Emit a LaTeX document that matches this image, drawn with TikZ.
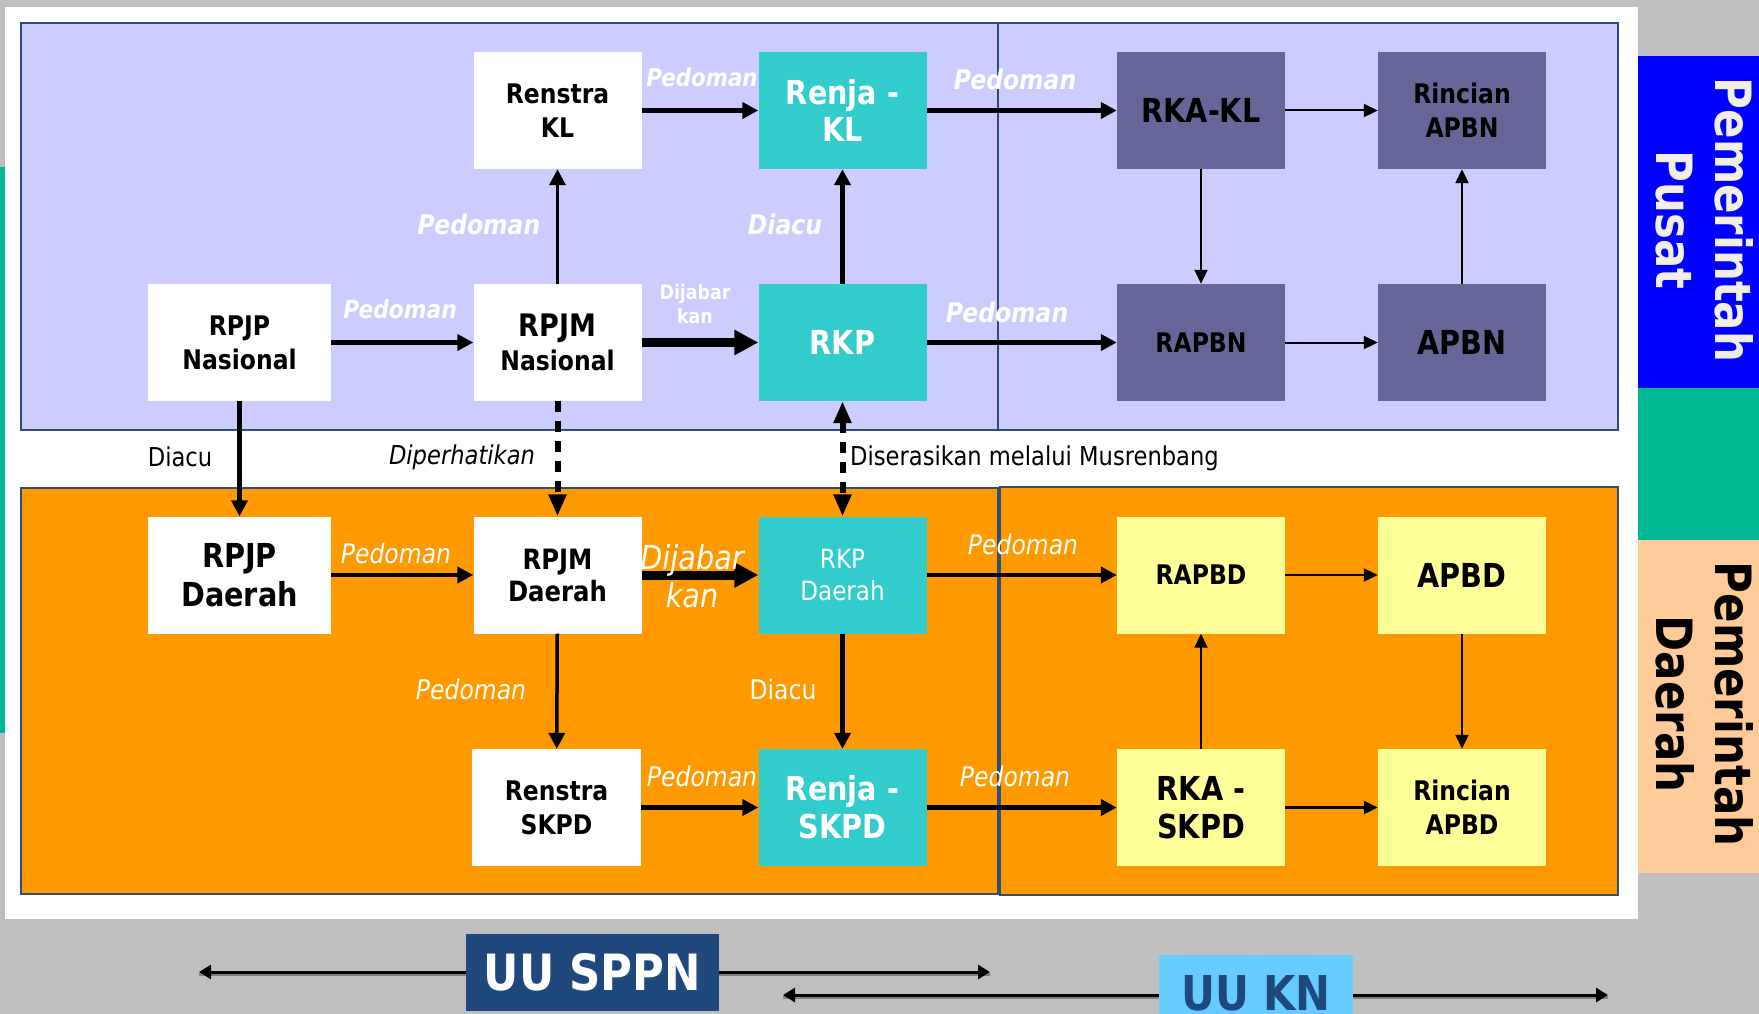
\documentclass[tikz,border=0pt]{standalone}
\usepackage{fontspec}
\setmainfont{DejaVu Sans}[FakeStretch=0.87]
\usetikzlibrary{arrows.meta}
\definecolor{lav}{HTML}{CCCCFF}
\definecolor{org}{HTML}{FF9900}
\definecolor{tealb}{HTML}{33CCCC}
\definecolor{dpur}{HTML}{666699}
\definecolor{ylw}{HTML}{FFFF99}
\definecolor{peach}{HTML}{FFCC99}
\definecolor{gry}{HTML}{BFBFBF}
\definecolor{strip}{HTML}{00B894}
\definecolor{navy}{HTML}{1F497D}
\definecolor{skyb}{HTML}{66CCFF}
\definecolor{frm}{HTML}{2E4D7B}
\definecolor{offw}{HTML}{F0EEE6}
\definecolor{pureblue}{HTML}{0000FF}
\tikzset{
  box/.style={minimum width=168pt, minimum height=117pt, inner sep=0pt, align=center, text=black, font=\fontsize{27}{34}\selectfont\bfseries},
  wbox/.style={box, fill=white},
  tbox/.style={box, fill=tealb, text=white},
  pbox/.style={box, fill=dpur},
  ybox/.style={box, fill=ylw},
  big/.style={font=\fontsize{33}{37}\selectfont\bfseries},
  a2/.style={line width=2pt, -{Triangle[length=14pt,width=13pt]}},
  a4/.style={line width=4.5pt, -{Triangle[length=16pt,width=16pt]}},
  a9/.style={line width=9pt, -{Triangle[length=24pt,width=24pt]}},
  dotln/.style={line width=6pt, dash pattern=on 11pt off 9pt},
  dtip/.style={-{Triangle[length=22pt,width=17pt]}},
  dtips/.style={{Triangle[length=22pt,width=17pt]}-{Triangle[length=22pt,width=17pt]}},
  lblB/.style={inner sep=0pt, text=white, font=\fontsize{27}{30}\selectfont\bfseries\itshape},
  lblI/.style={inner sep=0pt, text=white, font=\fontsize{27}{30}\selectfont\itshape},
  lblK/.style={inner sep=0pt, text=black, font=\fontsize{26}{30}\selectfont},
  panel/.style={draw=frm, line width=2pt},
  larr/.style={line width=3pt, {Triangle[length=12pt,width=14pt]}-{Triangle[length=12pt,width=14pt]}},
}
\begin{document}
\begin{tikzpicture}[x=1pt,y=-1pt]
\useasboundingbox (0,0) rectangle (1759,1014);
\clip (0,0) rectangle (1759,1014);
% backgrounds
\fill[gry] (0,0) rectangle (1759,1014);
\fill[strip] (0,167) rectangle (6,733);
\fill[white] (5,7) rectangle (1638,919);
\fill[pureblue] (1638,56) rectangle (1759,388);
\fill[strip] (1638,388) rectangle (1759,540);
\fill[peach] (1638,540) rectangle (1759,873);
% panels
\fill[lav] (21,23) rectangle (1618,430);
\draw[panel] (21,23) rectangle (998,430);
\draw[panel] (998,23) rectangle (1618,430);
\fill[org] (21,488) rectangle (1618,894);
\draw[panel] (21,488) rectangle (998,894);
\draw[panel] (1000,487) rectangle (1618,895);

% top nodes
\node[wbox] (renstrakl) at (557.5,110.5) {Renstra\\KL};
\node[tbox, big] (renjakl) at (842.5,110.5) {Renja -\\KL};
\node[pbox, big] (rkakl) at (1201,110.5) {RKA-KL};
\node[pbox] (rincianapbn) at (1462,110.5) {Rincian\\APBN};
\node[wbox, minimum width=183pt] (rpjpn) at (239.5,342.5) {RPJP\\Nasional};
\node[wbox] (rpjmn) at (557.5,342.5) {{\fontsize{31}{34}\selectfont RPJM}\\Nasional};
\node[tbox, big] (rkp) at (842.5,342.5) {RKP};
\node[pbox] (rapbn) at (1201,342.5) {RAPBN};
\node[pbox, big] (apbn) at (1462,342.5) {APBN};
% bottom nodes
\node[wbox, minimum width=183pt, font=\fontsize{33}{39}\selectfont\bfseries] (rpjpd) at (239.5,575) {RPJP\\Daerah};
\node[wbox, font=\fontsize{28}{32}\selectfont\bfseries] (rpjmd) at (557.5,575) {RPJM\\Daerah};
\node[tbox, font=\fontsize{26.5}{32}\selectfont] (rkpd) at (842.5,575) {RKP\\Daerah};
\node[ybox] (rapbd) at (1201,575) {RAPBD};
\node[ybox, big] (apbd) at (1462,575) {APBD};
\node[wbox, minimum width=169pt] (renstraskpd) at (556.5,807.5) {Renstra\\SKPD};
\node[tbox, font=\fontsize{33}{38}\selectfont\bfseries] (renjaskpd) at (842.5,807.5) {Renja -\\SKPD};
\node[ybox, font=\fontsize{33}{38}\selectfont\bfseries] (rkaskpd) at (1201,807.5) {RKA -\\SKPD};
\node[ybox] (rincianapbd) at (1462,807.5) {Rincian\\APBD};

% top connectors
\draw[a4] (renstrakl) -- (renjakl);
\draw[a4] (renjakl) -- (rkakl);
\draw[a2] (rkakl) -- (rincianapbn);
\draw[a2] (rkakl) -- (rapbn);
\draw[a2] (rapbn) -- (apbn);
\draw[a2] (apbn) -- (rincianapbn);
\draw[a4] (rpjpn) -- (rpjmn);
\draw[a4, line width=3.5pt] (rpjmn) -- (renstrakl);
\draw[a9] (rpjmn) -- (rkp);
\draw[a4] (rkp) -- (renjakl);
\draw[a4] (rkp) -- (rapbn);
% middle connectors
\draw[a4] (rpjpn) -- (rpjpd);
\draw[dotln, dtip] (rpjmn) -- (rpjmd);
\draw[dotln, dtips] (rkp) -- (rkpd);
% bottom connectors
\draw[a4] (rpjpd) -- (rpjmd);
\draw[a9] (rpjmd) -- (rkpd);
\draw[a4, line width=3.5pt] (rpjmd) -- (renstraskpd);
\draw[a4, line width=5pt] (rkpd) -- (renjaskpd);
\draw[a4] (renstraskpd) -- (renjaskpd);
\draw[a4] (rkpd) -- (rapbd);
\draw[a4] (renjaskpd) -- (rkaskpd);
\draw[a2] (rapbd) -- (apbd);
\draw[a2] (rkaskpd) -- (rapbd);
\draw[a2] (apbd) -- (rincianapbd);
\draw[a2, line width=2.5pt] (rkaskpd) -- (rincianapbd);

% labels top
\node[lblB, font=\fontsize{24.5}{28}\selectfont\bfseries\itshape] (l1) at (702,77) {Pedoman};
\node[lblB] (l2) at (1015,79) {Pedoman};
\node[lblB] (l3) at (479,224) {Pedoman};
\node[lblB] (l4) at (785,224) {Diacu};
\node[lblB, font=\fontsize{25}{28}\selectfont\bfseries\itshape] (l5) at (400,309) {Pedoman};
\node[lblB] (l6) at (1007,312) {Pedoman};
\node[inner sep=0pt, text=white, align=center, font=\fontsize{20}{24}\selectfont\bfseries] (l7) at (695,304) {Dijabar\\kan};
% labels middle
\node[lblK] (l8) at (180,457) {Diacu};
\node[lblK, font=\fontsize{26}{30}\selectfont\itshape] (l9) at (462,457) {Diperhatikan};
\node[lblK, anchor=west] (l10) at (850,458) {Diserasikan melalui Musrenbang};
% labels bottom
\node[lblI] (l11) at (396,553) {Pedoman};
\node[inner sep=0pt, text=white, align=center, font=\fontsize{33}{38}\selectfont\itshape] (l12) at (692,576) {Dijabar\\kan};
\node[lblI] (l13) at (471,689) {Pedoman};
\node[lblI, font=\fontsize{27}{30}\selectfont] (l14) at (783,689) {Diacu};
\node[lblI] (l15) at (702,776) {Pedoman};
\node[lblI] (l16) at (1023,544) {Pedoman};
\node[lblI] (l17) at (1015,776) {Pedoman};

% side labels
\node[rotate=-90, align=center, text=offw, inner sep=0pt, font=\fontsize{50}{59}\selectfont\bfseries] (pusat) at (1705,220) {Pemerintah\\Pusat};
\node[rotate=-90, align=center, text=black, inner sep=0pt, font=\fontsize{50}{59}\selectfont\bfseries] (daerah) at (1705,704) {Pemerintah\\Daerah};

% bottom laws
\coordinate (s1) at (199,972);
\coordinate (s2) at (990,972);
\coordinate (k1) at (783,995);
\coordinate (k2) at (1608,995);
\draw[line width=3pt, gray] ([yshift=-2pt]s1) -- ([yshift=-2pt]s2);
\draw[larr] (s1) -- (s2);
\draw[line width=3pt, gray] ([yshift=-2pt]k1) -- ([yshift=-2pt]k2);
\draw[larr] (k1) -- (k2);
\node[fill=navy, minimum width=253pt, minimum height=77pt, inner sep=0pt, text=white, font=\fontsize{50}{55}\selectfont\bfseries] (sppn) at (592.5,972.5) {UU SPPN};
\node[fill=skyb, minimum width=194pt, inner sep=0pt, anchor=north, text=navy, font=\fontsize{48}{55}\selectfont\bfseries, text height=55pt, text depth=25pt] (kn) at (1256,955) {UU KN};
\end{tikzpicture}
\end{document}
